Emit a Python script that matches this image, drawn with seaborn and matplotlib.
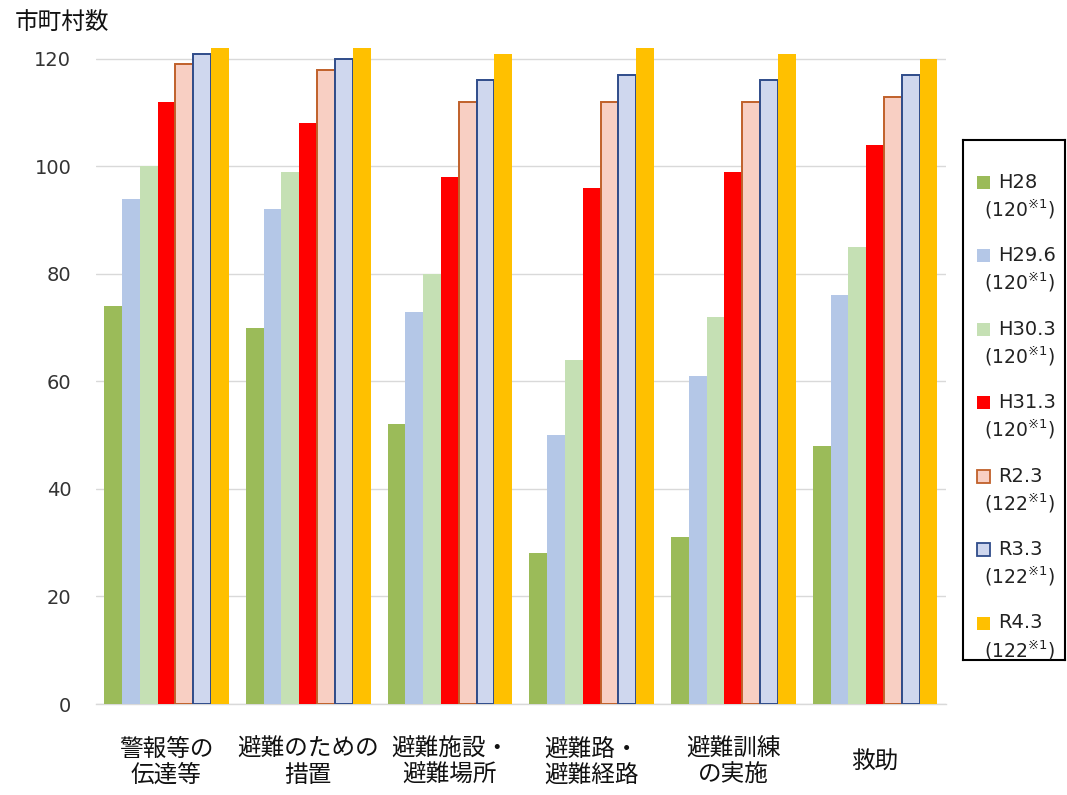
import matplotlib
matplotlib.use("Agg")
import matplotlib.pyplot as plt
from matplotlib.patches import Rectangle
import seaborn as sns
import pandas as pd

# 取組項目
categories = ["警報等の\n伝達等", "避難のための\n措置", "避難施設・\n避難場所",
              "避難路・\n避難経路", "避難訓練\nの実施", "救助"]

# 調査時点と対象市町村数
periods = ["H28", "H29.6", "H30.3", "H31.3", "R2.3", "R3.3", "R4.3"]
period_totals = ["120", "120", "120", "120", "122", "122", "122"]

# 各時点の市町村数
h28 = [74, 70, 52, 28, 31, 48]
h29_6 = [94, 92, 73, 50, 61, 76]
h30_3 = [100, 99, 80, 64, 72, 85]
h31_3 = [112, 108, 98, 96, 99, 104]
r2_3 = [119, 118, 112, 112, 112, 113]
r3_3 = [121, 120, 116, 117, 116, 117]
r4_3 = [122, 122, 121, 122, 121, 120]

y_ticks = [0, 20, 40, 60, 80, 100, 120]

series = [h28, h29_6, h30_3, h31_3, r2_3, r3_3, r4_3]
rows = []
for period, vals in zip(periods, series):
    for cat, v in zip(categories, vals):
        rows.append({"項目": cat, "時点": period, "市町村数": v})
df = pd.DataFrame(rows)

fills = ["#9BBB59", "#B4C7E7", "#C5E0B4", "#FF0000", "#F8CFC3", "#CFD7EE", "#FFC000"]
edges = [None, None, None, None, "#C0602A", "#2F4C8A", None]

sns.set_theme(style="white")
plt.rcParams["font.family"] = ["Noto Sans CJK JP", "DejaVu Sans"]

W, H = 1067, 795
fig = plt.figure(figsize=(W / 100, H / 100), dpi=100)
ax = fig.add_axes([95.6 / W, (H - 704) / H, 850.4 / W, 672 / H])

sns.barplot(data=df, x="項目", y="市町村数", hue="時点", hue_order=periods,
            order=categories, palette=fills, width=0.88, gap=0,
            saturation=1, legend=False, ax=ax, zorder=3)

for container, ec in zip(ax.containers, edges):
    for bar in container:
        if ec is None:
            bar.set_edgecolor("none")
            bar.set_linewidth(0)
        else:
            bar.set_edgecolor(ec)
            bar.set_linewidth(1.4)

ax.set_ylim(0, 125)
ax.set_yticks(y_ticks)
ax.yaxis.grid(True, color="#D9D9D9", linewidth=1.0, zorder=0)
ax.xaxis.grid(False)
for side in ["top", "right", "left"]:
    ax.spines[side].set_visible(False)
ax.spines["bottom"].set_color("#D9D9D9")
ax.spines["bottom"].set_linewidth(1.0)
ax.set_xlabel("")
ax.set_ylabel("")
ax.tick_params(axis="y", length=0, labelsize=14, labelcolor="#333333", pad=17.5)
for lab in ax.get_yticklabels():
    lab.set_family("DejaVu Sans")
ax.tick_params(axis="x", length=0, labelsize=17, labelcolor="#111111", pad=42)
for lab in ax.get_xticklabels():
    lab.set_verticalalignment("center")
    lab.set_linespacing(1.2)

fig.text(15 / W, 1 - 22 / H, "市町村数", fontsize=17, color="#111111",
         va="center", ha="left")

# 凡例（枠内に2行のラベルを配置）
lax = fig.add_axes([963 / W, (H - 660) / H, 102 / W, 520 / H])
lax.set_xlim(963, 1065)
lax.set_ylim(660, 140)
lax.set_xticks([])
lax.set_yticks([])
lax.set_facecolor("white")
for s in lax.spines.values():
    s.set_visible(True)
    s.set_color("#000000")
    s.set_linewidth(1.5)

for i, (p, tot, fc, ec) in enumerate(zip(periods, period_totals, fills, edges)):
    y1 = 182 + 73.5 * i
    lax.add_patch(Rectangle((977, y1 - 6.5), 13, 13, facecolor=fc,
                            edgecolor=ec if ec else fc,
                            linewidth=1.3 if ec else 0))
    lax.text(998, y1, p, fontsize=14, color="#222222", va="center", ha="left",
             family="DejaVu Sans")
    lax.text(984, y1 + 27, "(" + tot + r"$^{※1}$)", fontsize=13.5, color="#222222",
             va="center", ha="left", family="DejaVu Sans")

fig.savefig("out.png", dpi=100)
